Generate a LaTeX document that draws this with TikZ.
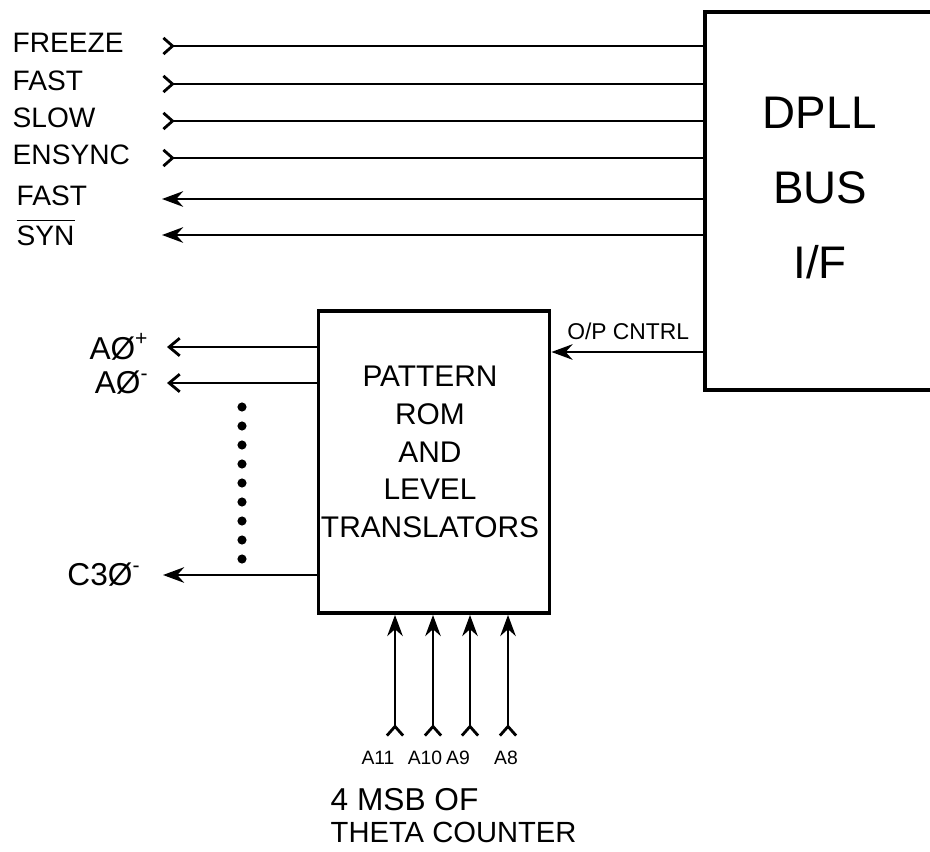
\documentclass[tikz,border=0pt]{standalone}
\usepackage{fontspec}
\setmainfont{Liberation Sans}
\usetikzlibrary{arrows.meta, positioning, calc}
\tikzset{
  blk/.style={draw, line width=1.1pt, inner sep=0pt},
  sig/.style={line width=0.8pt},
  inarrow/.style={sig, {Straight Barb[reversed, length=2.6pt, width=4.6pt]}-},
  outarrow/.style={sig, -{Stealth[length=6pt, width=4.4pt]}},
  barbout/.style={sig, -{Straight Barb[length=3pt, width=5pt]}},
  busarrow/.style={sig, {Straight Barb[reversed, length=2.6pt, width=4.6pt]}-{Stealth[length=6pt, width=4.4pt]}},
  lbl/.style={inner sep=0pt, font=\fontsize{8}{9}\selectfont},
  pinlbl/.style={inner sep=0pt, font=\fontsize{9}{10}\selectfont},
  tinylbl/.style={inner sep=0pt, font=\fontsize{5.5}{6}\selectfont}
}
\begin{document}
\begin{tikzpicture}
  \useasboundingbox (0,0) rectangle (9.30,8.51);
  % blocks
  \node[blk, minimum width=2.30cm, minimum height=3.78cm] (dpll) at (8.20,6.50) {};
  \node[align=center, font=\fontsize{13}{21.3}\selectfont] (dplltxt) at (8.20,6.63) {DPLL\\BUS\\I/F};
  \node[blk, minimum width=2.31cm, minimum height=3.02cm] (pat) at (4.34,3.89) {};
  \node[align=center, font=\fontsize{8.5}{10.7}\selectfont] (pattxt) at (4.30,3.99)
    {PATTERN\\ROM\\AND\\LEVEL\\TRANSLATORS};
  % bus signals
  \foreach \nm/\yy/\txt in {frz/8.05/FREEZE, fst/7.67/FAST, slw/7.30/SLOW, ens/6.93/ENSYNC}{
    \coordinate (\nm) at (1.62,\yy);
    \node[lbl, anchor=west] (\nm lbl) at (0.12,\yy+0.03) {\txt};
    \draw[inarrow] (\nm) -- (\nm -| dpll.west);
  }
  \foreach \nm/\yy/\txt in {fso/6.52/FAST, syn/6.16/{$\overline{\mbox{SYN}}$}}{
    \coordinate (\nm) at (1.62,\yy);
    \node[lbl, anchor=west] (\nm lbl) at (0.16,\yy+0.03) {\txt};
    \draw[outarrow] (\nm -| dpll.west) -- (\nm);
  }
  % control
  \coordinate (opc) at (7.05,4.99);
  \draw[outarrow] (opc) -- (opc -| pat.east)
    node[midway, above=3pt, font=\fontsize{6.5}{7}\selectfont, inner sep=0pt] (opclbl) {O/P CNTRL};
  % pattern outputs
  \foreach \nm/\yy/\txt in {ap/5.04/{AØ\textsuperscript{+}}, am/4.68/{AØ\textsuperscript{-}}}{
    \coordinate (\nm) at (1.67,\yy);
    \node[pinlbl, anchor=east] (\nm lbl) at (1.50,\yy) {\txt};
    \draw[barbout] (\nm -| pat.west) -- (\nm);
  }
  \coordinate (cm) at (1.63,2.76);
  \node[pinlbl, anchor=east] (cmlbl) at (1.42,2.76) {C3Ø\textsuperscript{-}};
  \draw[outarrow] (cm -| pat.west) -- (cm);
  \foreach \k in {0,...,8}
    \fill (2.42,4.44-0.19*\k) circle (1.3pt);
  % theta counter bits
  \foreach \nm/\xx/\txt/\dx in {b11/3.95/A11/-0.17, b10/4.33/A10/-0.08, b9/4.70/A9/-0.12, b8/5.08/A8/-0.02}{
    \coordinate (\nm) at (\xx,1.14);
    \draw[busarrow] (\nm) -- (\nm |- pat.south);
    \node[tinylbl] (\nm lbl) at ($(\nm)+(\dx,-0.21)$) {\txt};
  }
  \node[pinlbl, anchor=west] (msb) at (3.30,0.51) {4 MSB OF};
  \node[pinlbl, anchor=west, font=\fontsize{8.3}{10}\selectfont] (theta) at (3.30,0.19) {THETA COUNTER};
\end{tikzpicture}
\end{document}
